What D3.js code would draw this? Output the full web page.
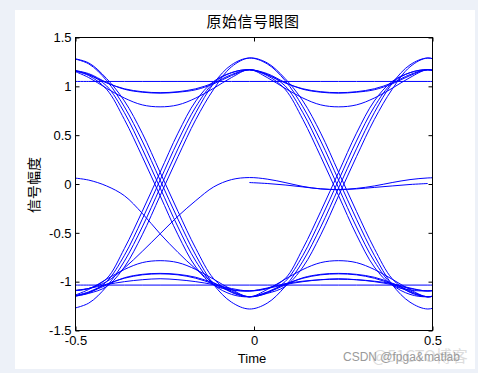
<!DOCTYPE html>
<html>
<head>
<meta charset="utf-8">
<script src="https://cdn.jsdelivr.net/npm/d3@7"></script>
<style>
  body { margin: 0; background: #edf1f8; }
  svg text { font-family: "Liberation Sans", Arial, sans-serif; }
</style>
</head>
<body>
<svg id="chart" width="478" height="373"></svg>
<script>
// sample times (one symbol = 0.5, samples at -0.513 / -0.013 / 0.487)
const time = [-0.513, -0.463, -0.413, -0.363, -0.313, -0.263, -0.213, -0.163, -0.113, -0.063,
  -0.013, 0.037, 0.087, 0.137, 0.187, 0.237, 0.287, 0.337, 0.387, 0.437, 0.487, 0.537];

// half-symbol segments (11 points each)
const flatH = [1.05, 1.05, 1.05, 1.05, 1.05, 1.05, 1.05, 1.05, 1.05, 1.05, 1.05];
const flatL = [-1.035, -1.035, -1.035, -1.035, -1.035, -1.035, -1.035, -1.035, -1.035, -1.035, -1.035];
const HH93a = [1.17, 1.12, 1.035, 0.975, 0.945, 0.935, 0.945, 0.975, 1.035, 1.12, 1.17];
const HH93b = [1.17, 1.13, 1.04, 0.97, 0.94, 0.93, 0.94, 0.965, 1.025, 1.11, 1.17];
const HH79 = [1.17, 1.09, 0.98, 0.88, 0.81, 0.79, 0.81, 0.88, 0.98, 1.09, 1.17];
const LL93a = [-1.155, -1.105, -1.025, -0.965, -0.93, -0.92, -0.93, -0.965, -1.025, -1.105, -1.155];
const LL93b = [-1.155, -1.11, -1.035, -0.96, -0.925, -0.915, -0.925, -0.955, -1.015, -1.095, -1.155];
const LL79 = [-1.155, -1.08, -0.975, -0.875, -0.805, -0.785, -0.805, -0.875, -0.975, -1.08, -1.155];
const LL97 = [-1.095, -1.07, -1.03, -1.0, -0.98, -0.97, -0.98, -1.0, -1.03, -1.07, -1.095];
const LL97b = [-1.095, -1.065, -1.02, -0.995, -0.98, -0.975, -0.98, -0.995, -1.02, -1.065, -1.095];

const F1 = [1.29, 1.23, 1.06, 0.79, 0.44, 0.04, -0.36, -0.73, -1.03, -1.21, -1.28];
const F2 = [1.17, 1.12, 1.005, 0.73, 0.36, -0.04, -0.44, -0.79, -1.03, -1.13, -1.155];
const F3 = [1.17, 1.11, 0.97, 0.66, 0.28, -0.12, -0.52, -0.85, -1.035, -1.085, -1.095];
const F4 = [1.29, 1.24, 1.08, 0.85, 0.52, 0.12, -0.28, -0.66, -0.97, -1.11, -1.155];
const R1 = [-1.28, -1.22, -1.05, -0.79, -0.44, -0.04, 0.36, 0.73, 1.03, 1.22, 1.29];
const R2 = [-1.155, -1.115, -1.0, -0.73, -0.36, 0.04, 0.44, 0.79, 1.035, 1.14, 1.17];
const R3 = [-1.095, -1.07, -0.97, -0.66, -0.28, 0.12, 0.52, 0.85, 1.05, 1.14, 1.17];
const R4 = [-1.155, -1.12, -1.05, -0.85, -0.52, -0.12, 0.28, 0.66, 0.97, 1.20, 1.29];

// start / end of the signal (near zero)
const startA = [0.065, 0.04, -0.02, -0.12, -0.30, -0.51, -0.70, -0.87, -1.01, -1.08, -1.095];
const startB = [-1.095, -1.07, -1.0, -0.86, -0.69, -0.51, -0.33, -0.17, -0.03, 0.045, 0.066];
const endB = [0.066, 0.05, 0.015, -0.025, -0.05, -0.057, -0.045, -0.02, 0.015, 0.045, 0.062];
const endC = [0.015, 0.005, -0.01, -0.03, -0.05, -0.057, -0.05, -0.035, -0.02, -0.005, 0.005];

// each trace: left half, right half, value just past the right edge
const traceParts = [
  [flatH, flatH, 1.05],
  [flatL, flatL, -1.035],
  [HH93a, HH93a, 1.12],
  [HH93b, F2, -1.12],
  [HH79, HH79, 1.12],
  [R2, HH93b, 1.13],
  [R3, F3, -1.08],
  [R1, F1, -1.22],
  [R4, F4, -1.12],
  [LL93a, LL93a, -1.105],
  [LL93b, R2, 1.13],
  [LL79, LL79, -1.1],
  [F2, LL93b, -1.11],
  [F4, R4, 1.23],
  [F1, R1, 1.23],
  [LL97, R3, 1.12],
  [F3, LL97, -1.07],
  [startA, LL97b, -1.065],
  [startB, endB, 0.066]
];

const xTicks = [-0.5, 0, 0.5];
const yTicks = [-1.5, -1, -0.5, 0, 0.5, 1, 1.5];

const svg = d3.select("#chart");

svg.append("rect")
  .attr("x", 15).attr("y", 10)
  .attr("width", 460).attr("height", 359)
  .attr("fill", "#ffffff");

const x = d3.scaleLinear().domain([-0.5, 0.5]).range([75.5, 432.5]);
const y = d3.scaleLinear().domain([-1.5, 1.5]).range([330.5, 37.5]);

const traces = traceParts.map(([l, r, tail]) => l.concat(r.slice(1), [tail]));
traces.push(time.map((t, i) => (i >= 10 && i <= 20) ? endC[i - 10] : null));

svg.append("defs").append("clipPath").attr("id", "plotClip")
  .append("rect")
  .attr("x", x(-0.5)).attr("y", y(1.5))
  .attr("width", x(0.5) - x(-0.5)).attr("height", y(-1.5) - y(1.5));

const line = d3.line()
  .defined(d => d[1] != null)
  .x(d => x(d[0]))
  .y(d => y(d[1]))
  .curve(d3.curveCatmullRom);

svg.append("g")
  .attr("clip-path", "url(#plotClip)")
  .selectAll("path")
  .data(traces)
  .join("path")
  .attr("d", d => line(d.map((v, i) => [time[i], v])))
  .attr("fill", "none")
  .attr("stroke", "#0000ff")
  .attr("stroke-width", 1);

// axes, MATLAB style: ticks inside on all four sides
function styleAxis(g) {
  g.select(".domain").remove();
  g.selectAll("line").attr("stroke", "#000");
  g.selectAll("text").attr("fill", "#000").attr("font-size", 13)
    .attr("font-family", "Liberation Sans, Arial, sans-serif");
}

svg.append("g")
  .attr("transform", `translate(0,${y(-1.5)})`)
  .call(d3.axisBottom(x).tickValues(xTicks).tickSizeInner(-4).tickSizeOuter(0)
    .tickPadding(5).tickFormat(d => String(d)))
  .call(styleAxis);

svg.append("g")
  .attr("transform", `translate(0,${y(1.5)})`)
  .call(d3.axisTop(x).tickValues(xTicks).tickSizeInner(-4).tickSizeOuter(0).tickFormat(""))
  .call(styleAxis);

svg.append("g")
  .attr("transform", `translate(${x(-0.5)},0)`)
  .call(d3.axisLeft(y).tickValues(yTicks).tickSizeInner(-4).tickSizeOuter(0)
    .tickPadding(4).tickFormat(d => String(d)))
  .call(styleAxis);

svg.append("g")
  .attr("transform", `translate(${x(0.5)},0)`)
  .call(d3.axisRight(y).tickValues(yTicks).tickSizeInner(-4).tickSizeOuter(0).tickFormat(""))
  .call(styleAxis);

svg.append("rect")
  .attr("x", x(-0.5)).attr("y", y(1.5))
  .attr("width", x(0.5) - x(-0.5)).attr("height", y(-1.5) - y(1.5))
  .attr("fill", "none")
  .attr("stroke", "#000");

svg.append("text")
  .attr("x", 253).attr("y", 27)
  .attr("text-anchor", "middle")
  .attr("font-size", 15)
  .attr("letter-spacing", 0.5)
  .style("font-family", "'Noto Sans CJK SC', sans-serif")
  .text("原始信号眼图");

svg.append("text")
  .attr("transform", "translate(39,185) rotate(-90)")
  .attr("text-anchor", "middle")
  .attr("font-size", 14)
  .style("font-family", "'Noto Sans CJK SC', sans-serif")
  .text("信号幅度");

svg.append("text")
  .attr("x", 252).attr("y", 363)
  .attr("text-anchor", "middle")
  .attr("font-size", 13)
  .text("Time");

// watermark
svg.append("text")
  .attr("x", 372).attr("y", 362)
  .attr("font-size", 16)
  .attr("fill", "#dcdcdc")
  .style("font-family", "'Noto Sans CJK SC', sans-serif")
  .text("@51CTO博客");

svg.append("text")
  .attr("x", 343).attr("y", 361)
  .attr("font-size", 12)
  .attr("fill", "#9a9a9a")
  .text("CSDN @fpga&matlab");
</script>
</body>
</html>
